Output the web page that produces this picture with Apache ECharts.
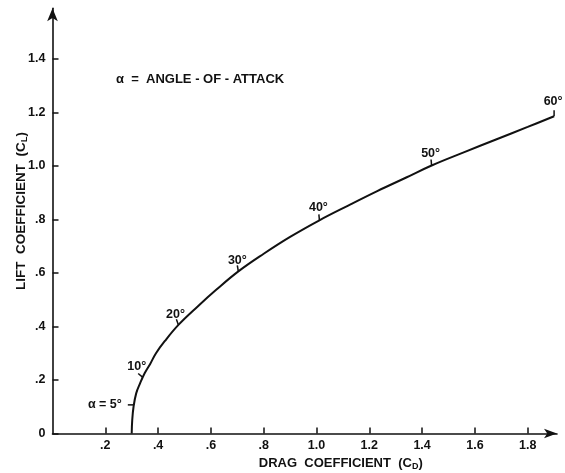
<!DOCTYPE html>
<html><head><meta charset="utf-8">
<script src="https://cdn.jsdelivr.net/npm/echarts@6/dist/echarts.min.js"></script>
<style>html,body{margin:0;padding:0;background:#fff}#c{width:565px;height:473px}</style>
</head><body><div id="c"></div>
<script>
// ---- data ----
var curveCD = [0.300, 0.302, 0.307, 0.317, 0.332, 0.349, 0.370, 0.392, 0.425, 0.477, 0.550, 0.620, 0.704, 0.800, 0.900, 1.011, 1.120, 1.230, 1.340, 1.436, 1.560, 1.680, 1.800, 1.900];
var curveCL = [0.000, 0.050, 0.100, 0.150, 0.188, 0.225, 0.260, 0.300, 0.345, 0.406, 0.475, 0.537, 0.606, 0.672, 0.735, 0.797, 0.852, 0.906, 0.957, 1.002, 1.052, 1.099, 1.146, 1.186];
var alphaDeg = [5, 10, 20, 30, 40, 50, 60];
var alphaCD  = [0.308, 0.342, 0.477, 0.704, 1.011, 1.436, 1.900];
var alphaCL  = [0.107, 0.210, 0.406, 0.606, 0.797, 1.002, 1.186];
var xTickValues = [0.2, 0.4, 0.6, 0.8, 1.0, 1.2, 1.4, 1.6, 1.8];
var xTickLabels = ['.2', '.4', '.6', '.8', '1.0', '1.2', '1.4', '1.6', '1.8'];
var yTickValues = [0, 0.2, 0.4, 0.6, 0.8, 1.0, 1.2, 1.4];
var yTickLabels = ['0', '.2', '.4', '.6', '.8', '1.0', '1.2', '1.4'];

// ---- layout (styles only) ----
var FONT = 'Liberation Sans';
var INK = '#111';
var markerLayout = {
  5:  {dir: 180, dx: -12, dy: 0, align: 'right'},
  10: {dir: 140, dx: -6, dy: -11, align: 'center'},
  20: {dir: 110, dx: -3, dy: -10, align: 'center'},
  30: {dir: 100, dx: -1, dy: -11, align: 'center'},
  40: {dir: 95, dx: -1, dy: -13, align: 'center'},
  50: {dir: 95, dx: -1, dy: -12, align: 'center'},
  60: {dir: 90, dx: -1, dy: -15, align: 'center'}
};

var curveData = curveCD.map(function (v, i) { return [v, curveCL[i]]; });
var markerData = alphaDeg.map(function (a, i) { return [alphaCD[i], alphaCL[i], a]; });
function lbl(arrV, arrL) { return function (v) { for (var i = 0; i < arrV.length; i++) if (Math.abs(arrV[i] - v) < 1e-6) return arrL[i]; return ''; }; }

var chart = echarts.init(document.getElementById('c'), null, {renderer: 'canvas'});
chart.setOption({
  backgroundColor: '#fff',
  animation: false,
  grid: {left: 52.5, right: 8, top: 8.3, bottom: 39.5, containLabel: false, outerBoundsMode: 'none'},
  xAxis: {
    type: 'value', min: 0, max: 1.911,
    splitLine: {show: false},
    axisLine: {lineStyle: {color: INK, width: 1.6}, symbol: ['none', 'arrow'], symbolSize: [7, 13]},
    axisTick: {show: true, inside: true, length: 6, lineStyle: {color: INK, width: 1.5}, customValues: xTickValues},
    axisLabel: {customValues: xTickValues, formatter: lbl(xTickValues, xTickLabels), margin: 6, color: INK, fontFamily: FONT, fontWeight: 'bold', fontSize: 12.5},
    name: 'DRAG  COEFFICIENT  (C{sub|D})',
    nameLocation: 'middle', nameGap: 21,
    nameTextStyle: {color: INK, fontFamily: FONT, fontWeight: 'bold', fontSize: 13, padding: [0, 0, 0, 72],
      rich: {sub: {fontSize: 9, fontFamily: FONT, fontWeight: 'bold', color: INK, padding: [6, 0, 0, 0]}}}
  },
  yAxis: {
    type: 'value', min: 0, max: 1.5895,
    splitLine: {show: false},
    axisLine: {lineStyle: {color: INK, width: 1.6}, symbol: ['none', 'arrow'], symbolSize: [8, 13]},
    axisTick: {show: true, inside: true, length: 6, lineStyle: {color: INK, width: 1.5}, customValues: yTickValues},
    axisLabel: {customValues: yTickValues, formatter: lbl(yTickValues, yTickLabels), margin: 7, color: INK, fontFamily: FONT, fontWeight: 'bold', fontSize: 12.5},
    name: 'LIFT  COEFFICIENT  (C{sub|L})',
    nameLocation: 'middle', nameGap: 23, nameRotate: 90, nameMoveOverlap: false,
    nameTextStyle: {color: INK, fontFamily: FONT, fontWeight: 'bold', fontSize: 13.5, padding: [0, 0, 0, 20],
      rich: {sub: {fontSize: 9.5, fontFamily: FONT, fontWeight: 'bold', color: INK, padding: [6, 0, 0, 0]}}}
  },
  graphic: [{
    type: 'text', left: 116, top: 73,
    style: {text: 'α  =  ANGLE - OF - ATTACK', fill: INK, font: 'bold 13px "' + FONT + '"'}
  }],
  series: [{
    type: 'line', data: curveData, smooth: 0.4, showSymbol: false, clip: false,
    lineStyle: {color: INK, width: 2}
  }, {
    type: 'custom', data: markerData, clip: false,
    renderItem: function (params, api) {
      var p = api.coord([api.value(0), api.value(1)]);
      var a = api.value(2);
      var L = markerLayout[a];
      var r = L.dir * Math.PI / 180, len = 6;
      var ex = p[0] + Math.cos(r) * len, ey = p[1] - Math.sin(r) * len;
      var txt = a === 5 ? 'α = 5°' : a + '°';
      return {type: 'group', children: [
        {type: 'line', shape: {x1: p[0], y1: p[1], x2: ex, y2: ey}, style: {stroke: INK, lineWidth: 1.5}},
        {type: 'text', x: p[0] + L.dx, y: p[1] + L.dy,
          style: {text: txt, fill: INK, font: 'bold 12.5px "' + FONT + '"', align: L.align, verticalAlign: 'middle'}}
      ]};
    }
  }]
});
</script></body></html>
